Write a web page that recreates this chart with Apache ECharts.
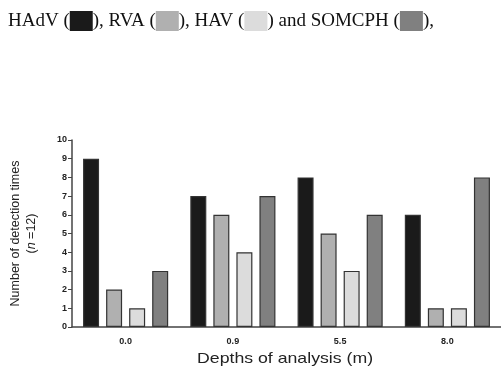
<!DOCTYPE html>
<html><head><meta charset="utf-8">
<script src="https://cdn.jsdelivr.net/npm/echarts@6/dist/echarts.min.js"></script>
<style>html,body{margin:0;padding:0;background:#fff}#c{width:501px;height:366px}</style>
</head><body><div id="c"></div>
<script>
const categories = ['0.0', '0.9', '5.5', '8.0'];
const seriesNames = ['HAdV', 'RVA', 'HAV', 'SOMCPH'];
const hadv = [9, 7, 8, 6];
const rva = [2, 6, 5, 1];
const hav = [1, 4, 3, 1];
const somcph = [3, 7, 6, 8];
const yTicks = [0, 10, 1];
const colors = ['#1a1a1a', '#b0b0b0', '#dcdcdc', '#808080'];

const chart = echarts.init(document.getElementById('c'), null, {renderer: 'canvas'});
const values = [hadv, rva, hav, somcph];
const sq = (c) => ({backgroundColor: c, width: 23, height: 20});
chart.setOption({
  animation: false,
  title: {
    text: 'HAdV ({a|}), RVA ({b|}), HAV ({c|}) and SOMCPH ({d|}),',
    left: 3, top: 6,
    textStyle: {
      fontFamily: 'Liberation Serif', fontSize: 19, fontWeight: 'normal', color: '#111',
      rich: {a: sq(colors[0]), b: sq(colors[1]), c: sq(colors[2]), d: sq(colors[3])}
    }
  },
  grid: {left: 68, top: 140, width: 440, height: 187, containLabel: false},
  xAxis: {
    type: 'category', data: categories,
    axisLine: {lineStyle: {color: '#444', width: 1.5}},
    axisTick: {alignWithLabel: true, length: 3, lineStyle: {color: '#444'}},
    axisLabel: {fontFamily: 'Liberation Sans', fontSize: 9, fontWeight: 'bold', color: '#222', margin: 10}
  },
  yAxis: {
    type: 'value', min: yTicks[0], max: yTicks[1], interval: yTicks[2],
    name: 'Number of detection times\n({i|n} =12)',
    nameLocation: 'middle', nameRotate: 90, nameGap: 32,
    nameTextStyle: {fontFamily: 'Liberation Sans', fontSize: 12.5, color: '#222', lineHeight: 16,
      rich: {i: {fontStyle: 'italic', fontFamily: 'Liberation Sans', fontSize: 12.5, color: '#222'}}},
    axisLine: {show: true, lineStyle: {color: '#444', width: 1.5}},
    axisTick: {show: true, length: 4, lineStyle: {color: '#444'}},
    splitLine: {show: false},
    axisLabel: {fontFamily: 'Liberation Sans', fontSize: 9, fontWeight: 'bold', color: '#222', margin: 5}
  },
  graphic: [{
    type: 'text', x: 197, y: 351, scaleX: 1.18,
    style: {text: 'Depths of analysis (m)', fontFamily: 'Liberation Sans', fontSize: 15, fill: '#222'}
  }],
  series: seriesNames.map((n, i) => ({
    name: n, type: 'bar', data: values[i],
    barWidth: 16, barGap: '44%', barCategoryGap: '23%',
    itemStyle: {color: colors[i], borderColor: '#333', borderWidth: 1.2}
  }))
});
</script></body></html>
